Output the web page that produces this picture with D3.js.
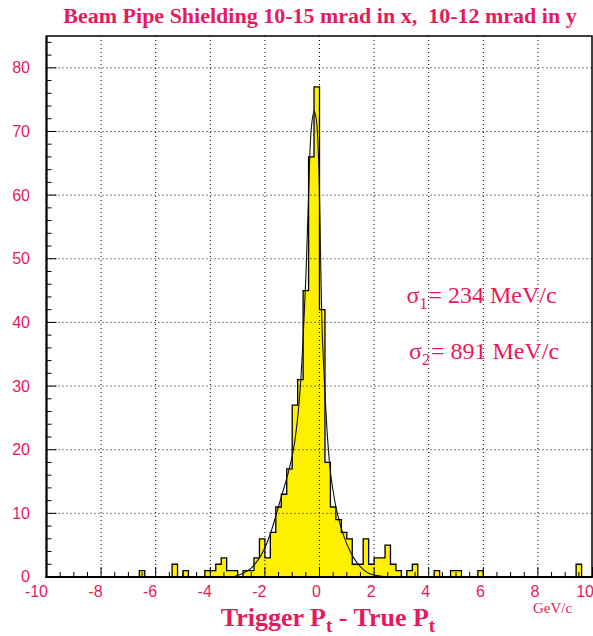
<!DOCTYPE html>
<html><head><meta charset="utf-8">
<script src="https://cdn.jsdelivr.net/npm/d3@7"></script>
<style>body{margin:0;background:#fff} svg{display:block}</style>
</head><body><svg id="c" width="593" height="636"></svg>
<script>
// ---- data ----
const binLow = -10, binHigh = 10, binWidth = 0.2;
const counts = [
  0,0,0,0,0,0,0,0,0,0,
  0,0,0,0,0,0,0,1,0,0,
  0,0,0,2,0,1,0,0,0,1,
  1,2,3,1,1,0,1,1,3,6,
  3,7,11,13,17,27,31,45,66,77,
  42,18,11,9,7,6,2,2,6,2,
  3,3,5,2,1,0,1,2,0,0,
  0,1,0,0,1,1,0,0,0,1,
  0,0,0,0,0,0,0,0,0,0,
  0,0,0,0,0,0,0,2,0,0
];
const fitX = [-3.1,-2.8,-2.5,-2.2,-2.0,-1.8,-1.6,-1.4,-1.2,-1.0,-0.9,-0.8,-0.7,-0.6,-0.5,-0.4,-0.3,-0.2,-0.12,-0.05,0.0,0.05,0.1,0.2,0.3,0.4,0.5,0.6,0.7,0.8,1.0,1.2,1.4,1.6,1.8,2.0,2.3];
const fitY = [0.1,0.6,1.4,3.0,4.6,6.8,9.6,12.6,15.5,19.0,21.5,25.0,30.0,37.5,47.0,60.0,70.5,73.2,72.0,67.5,60.0,48.0,38.5,29.0,21.5,16.5,13.5,11.0,9.2,7.6,5.2,3.4,2.1,1.2,0.6,0.3,0.1];
const xTickLabels = [-10,-8,-6,-4,-2,0,2,4,6,8,10];
const yTickLabels = [0,10,20,30,40,50,60,70,80];
const titleText = "Beam Pipe Shielding 10-15 mrad in x,  10-12 mrad in y";
const sigmaSubs = ["1","2"];
const sigmaTexts = ["= 234 MeV/c","= 891 MeV/c"];
const unitText = "GeV/c";

// ---- layout ----
const PINK = "#e8185c";
const L = 46.5, R = 592.5, T = 36, B = 577;
const svg = d3.select("#c");
const x = d3.scaleLinear().domain([binLow, binHigh]).range([L, R]);
const y = d3.scaleLinear().domain([0, 85]).range([B, T]);

// histogram
const pts = counts.map((c,i)=>[binLow + i*binWidth, c]);
pts.push([binHigh, counts[counts.length-1]]);
svg.append("path").datum(pts)
  .attr("d", d3.area().x(d=>x(d[0])).y0(y(0)).y1(d=>y(d[1])).curve(d3.curveStepAfter))
  .attr("fill", "#fff000");
svg.append("path").datum(pts)
  .attr("d", d3.line().x(d=>x(d[0])).y(d=>y(d[1])).curve(d3.curveStepAfter))
  .attr("fill", "none").attr("stroke", "#000").attr("stroke-width", 1.3);

// fit curve
const fit = fitX.map((v,i)=>[v, fitY[i]]);
svg.append("path").datum(fit)
  .attr("d", d3.line().x(d=>x(d[0])).y(d=>y(d[1])).curve(d3.curveCatmullRom.alpha(0.5)))
  .attr("fill","none").attr("stroke","#111").attr("stroke-width",1.1);

// grid
const g = svg.append("g").attr("stroke","#000").attr("stroke-width",1).attr("stroke-dasharray","1,3");
xTickLabels.slice(1,-1).forEach(v=>{
  g.append("line").attr("x1",x(v)).attr("x2",x(v)).attr("y1",T).attr("y2",B);
});
yTickLabels.slice(1).forEach(v=>{
  g.append("line").attr("x1",L).attr("x2",R).attr("y1",y(v)).attr("y2",y(v));
});

// ticks
const tk = svg.append("g").attr("stroke","#000").attr("stroke-width",1);
d3.range(-10, 10.001, 0.5).forEach(v=>{
  const major = Math.abs(v/2 - Math.round(v/2)) < 1e-6;
  tk.append("line").attr("x1",x(v)).attr("x2",x(v)).attr("y1",B).attr("y2",B-(major?10:5));
});
d3.range(0, 85, 2).forEach(v=>{
  const major = v % 10 === 0;
  tk.append("line").attr("x1",L).attr("x2",L+(major?10:5)).attr("y1",y(v)).attr("y2",y(v));
});

// frame
svg.append("rect").attr("x",L).attr("y",T).attr("width",R-L-0.5).attr("height",B-T)
  .attr("fill","none").attr("stroke","#000").attr("stroke-width",1.5);
svg.append("line").attr("x1",L).attr("x2",L).attr("y1",T).attr("y2",B+1).attr("stroke","#000").attr("stroke-width",2);
svg.append("line").attr("x1",L-1).attr("x2",R).attr("y1",B).attr("y2",B).attr("stroke","#000").attr("stroke-width",2);

// tick labels
const lab = svg.append("g").attr("fill",PINK).attr("font-family","'Liberation Sans', Arial, sans-serif").attr("font-size",16);
xTickLabels.forEach(v=>{
  lab.append("text").attr("x",x(v)+1.5).attr("y",597).attr("text-anchor","end").text(v);
});
yTickLabels.forEach(v=>{
  lab.append("text").attr("x",30).attr("y",v===0? y(v)-1 : y(v)).attr("dy","0.35em").attr("text-anchor","end").text(v);
});

// title
svg.append("text").attr("x",320).attr("y",23).attr("text-anchor","middle")
  .style("white-space","pre")
  .attr("fill",PINK).attr("font-family","'Liberation Serif', 'Times New Roman', serif")
  .attr("font-weight","bold").attr("font-size",22).text(titleText);

// axis title
const at = svg.append("text").attr("x",328).attr("y",626).attr("text-anchor","middle")
  .style("white-space","pre")
  .attr("fill",PINK).attr("font-family","'Liberation Serif', 'Times New Roman', serif")
  .attr("font-weight","bold").attr("font-size",26);
at.append("tspan").text("Trigger P");
at.append("tspan").attr("font-size",19).attr("dy",6).text("t");
at.append("tspan").attr("dy",-6).text(" - True P");
at.append("tspan").attr("font-size",19).attr("dy",6).text("t");

svg.append("text").attr("x",533).attr("y",613).attr("fill",PINK)
  .attr("font-family","'Liberation Serif', 'Times New Roman', serif").attr("font-size",15).text(unitText);

// sigma labels
const sx = [406.5, 409];
const sy = [303, 359];
sigmaSubs.forEach((s,i)=>{
  const t = svg.append("text").attr("x",sx[i]).attr("y",sy[i]).attr("fill",PINK)
    .style("white-space","pre")
    .attr("font-family","'Liberation Serif', 'Times New Roman', serif").attr("font-size",24);
  t.append("tspan").text("σ");
  t.append("tspan").attr("font-size",16).attr("dy",6).text(s);
  t.append("tspan").attr("dy",-6).attr("dx",1).text(sigmaTexts[i]);
});
</script>
</body></html>
